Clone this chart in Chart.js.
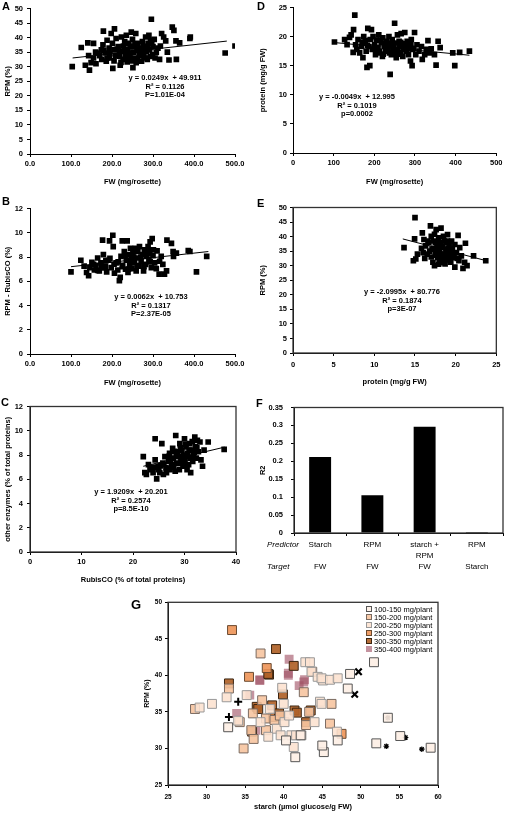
<!DOCTYPE html>
<html>
<head>
<meta charset="utf-8">
<script src="https://cdn.jsdelivr.net/npm/chart.js@4.4.1/dist/chart.umd.min.js"></script>
<style>
body { margin: 0; width: 505px; height: 814px; position: relative; background: #fff; overflow: hidden; font-family: "Liberation Sans", Arial, sans-serif; }
canvas { position: absolute; }
.tag { position: absolute; font-weight: bold; font-size: 11px; line-height: 11px; }
.eq { position: absolute; font-weight: bold; font-size: 7.5px; line-height: 8.5px; text-align: center; transform: translateX(-50%); white-space: nowrap; }
.row { position: absolute; font-style: italic; font-size: 8px; line-height: 10px; }
.leg { position: absolute; font-size: 7.5px; line-height: 8px; white-space: nowrap; }
.leg span { display: inline-block; width: 4px; height: 4px; margin-right: 2px; vertical-align: 0px; }
</style>
</head>
<body>
<canvas id="cA" width="247" height="192" style="left:0;top:0"></canvas>
<canvas id="cB" width="247" height="192" style="left:0;top:200px"></canvas>
<canvas id="cC" width="247" height="192" style="left:0;top:398px"></canvas>
<canvas id="cD" width="255" height="192" style="left:250px;top:0"></canvas>
<canvas id="cE" width="255" height="192" style="left:250px;top:200px"></canvas>
<canvas id="cF" width="255" height="190" style="left:250px;top:395px"></canvas>
<canvas id="cG" width="312" height="219" style="left:138px;top:595px"></canvas>
<div id="text"></div>
<script>
// panel A: FW (mg/rosette) vs RPM (%)
const panelA = [[103,30.0],[125,36.6],[135,30.5],[141,38.2],[143,33.8],[145,28.8],[149,31.4],[155,38.0],[161,31.0],[166,34.7],
  [170,33.8],[174,35.8],[178,37.5],[179,42.2],[184,34.7],[186,31.9],[188,39.1],[193,36.4],[194,33.0],[198,41.4],
  [201,38.0],[202,29.4],[205,35.8],[206,43.0],[209,33.8],[210,39.7],[215,36.9],[219,33.6],[220,30.5],[223,40.2],
  [225,35.3],[227,32.5],[228,37.1],[231,38.6],[233,34.1],[235,40.8],[237,31.6],[239,35.8],[241,38.0],[243,33.6],
  [245,34.7],[247,41.9],[250,39.4],[251,29.7],[253,36.9],[255,33.0],[258,41.4],[259,31.4],[261,35.6],[263,38.0],
  [266,34.1],[268,36.4],[272,31.9],[274,38.6],[276,34.7],[278,33.6],[280,36.9],[282,40.2],[284,35.3],[286,32.5],
  [288,38.0],[290,40.8],[292,35.8],[294,39.1],[296,46.3],[299,34.1],[300,36.9],[303,39.4],[305,33.0],[308,34.9],
  [312,36.4],[316,32.5],[318,37.1],[321,41.4],[326,40.2],[331,38.9],[335,35.0],[339,32.3],[347,43.6],[351,42.5],
  [356,38.9],[357,32.5],[365,38.2],[390,39.7],[391,40.2],[476,34.7],[500,37.1],
  [195,34.5],[205,32.0],[212,36.0],[218,35.0],[222,31.5],[230,36.0],[236,33.0],[244,37.0],[248,32.0],[252,35.0],
  [256,37.5],[262,32.5],[265,36.0],[270,34.0],[274,35.5],[277,37.0],[282,33.0],[287,36.5],[293,33.5],[297,38.0],
  [180,35.5],[188,33.0],[175,32.5],[160,35.0],[155,33.0]];
const trendA = [[104,33.0],[480,38.8]];

// panel B: FW vs RPM - RubisCO (%)
const panelB = [[100,6.77],[124,7.73],[132,7.25],[138,6.72],[143,6.45],[146,7.12],[151,7.57],[157,6.93],[161,7.31],[165,7.92],
  [169,6.85],[173,7.52],[177,9.39],[179,8.19],[184,7.25],[187,6.77],[192,7.73],[194,9.33],[198,7.12],[202,9.79],
  [203,8.85],[206,6.67],[210,7.52],[214,6.93],[218,6.05],[220,6.32],[222,8.05],[225,9.33],[226,7.31],[230,8.45],
  [233,6.99],[235,7.73],[237,9.33],[239,6.72],[241,8.19],[243,7.39],[245,8.72],[247,7.84],[249,7.04],[251,8.32],
  [255,7.52],[257,8.72],[259,6.85],[261,7.92],[263,8.45],[266,7.25],[267,8.85],[271,7.65],[274,8.19],[277,6.85],
  [279,8.59],[282,7.39],[284,8.05],[288,8.85],[290,7.79],[292,8.27],[293,9.25],[296,7.12],[298,9.52],[301,8.59],
  [304,7.52],[308,7.04],[315,6.59],[316,7.65],[320,8.05],[324,7.39],[328,6.59],[333,6.85],[334,9.39],[345,9.12],
  [349,8.45],[350,8.05],[357,8.32],[386,8.53],[390,8.45],[406,6.77],[431,8.05],
  [215,7.6],[225,7.2],[232,8.1],[240,7.0],[248,7.7],[253,8.0],[262,7.3],[270,8.0],[278,7.2],[285,8.3],
  [293,7.6],[205,7.4],[195,7.9],[185,7.7],[175,7.1],[165,6.9],[155,7.4],[290,8.6],[300,8.1],[310,8.5]];
const trendB = [[100,7.2],[435,8.45]];

// panel C: RubisCO (% of total proteins) vs other enzymes
const panelC = [[22.0,7.87],[22.3,6.54],[22.6,6.40],[23.3,6.80],[23.9,6.54],[24.3,9.34],[24.3,7.60],[24.6,6.03],[24.9,7.07],[25.2,6.54],
  [25.6,8.94],[25.8,7.33],[25.9,6.40],[26.2,7.87],[26.4,6.94],[26.5,6.54],[26.9,7.47],[27.1,8.14],[27.2,6.80],[27.5,7.20],
  [27.7,8.54],[27.8,7.74],[28.2,6.67],[28.3,9.61],[28.5,7.33],[28.6,8.27],[28.8,7.87],[29.0,6.80],[29.1,8.94],[29.3,7.47],
  [29.5,8.40],[29.7,7.07],[29.8,8.00],[30.0,9.34],[30.1,7.60],[30.3,8.67],[30.5,6.80],[30.6,8.14],[30.8,7.20],[31.0,8.94],
  [31.1,7.74],[31.2,6.54],[31.4,8.40],[31.6,7.47],[31.7,8.00],[32.0,9.47],[32.1,8.67],[32.3,7.74],[32.5,9.21],[32.7,8.27],
  [33.0,9.07],[33.2,7.60],[33.5,7.07],[33.8,8.40],[34.6,9.07],[37.7,8.47],
  [26.0,7.2],[26.8,6.9],[27.3,7.6],[27.9,7.0],[28.4,7.9],[28.9,7.3],[29.4,7.9],[29.9,7.2],[30.4,7.9],[30.9,8.4],
  [31.4,7.8],[31.9,8.2],[32.4,8.6],[27.0,7.9],[28.0,8.3],[29.2,8.6],[30.2,8.9],[31.5,9.1],[25.3,7.1],[24.0,7.0],
  [23.0,7.2],[25.0,6.8]];
const trendC = [[22.0,7.07],[37.8,8.65]];

// panel D: FW vs protein (mg/g FW)
const panelD = [[102,19.07],[127,19.47],[133,18.62],[139,19.86],[143,20.3],[148,17.3],[149,21.2],[152,23.7],[154,18.6],[157,17.8],
  [160,19.5],[164,17.2],[168,18.3],[172,16.4],[174,20.0],[176,18.9],[180,17.5],[182,14.7],[184,21.4],[187,18.3],
  [189,15.0],[190,19.5],[193,21.2],[195,17.8],[197,20.0],[201,18.6],[203,16.9],[205,19.4],[209,18.1],[211,20.3],
  [213,17.5],[217,18.9],[220,16.6],[221,19.8],[225,18.3],[228,17.5],[230,19.2],[234,17.8],[236,20.0],[238,18.6],
  [239,13.5],[242,16.9],[244,19.5],[246,18.1],[248,17.2],[250,22.3],[252,18.9],[254,16.4],[257,20.3],[258,17.8],
  [261,19.2],[262,18.3],[265,17.2],[266,20.5],[269,18.6],[270,16.6],[273,18.1],[275,20.7],[279,17.5],[281,19.2],
  [284,16.9],[287,18.3],[289,15.8],[291,19.5],[293,15.0],[295,17.8],[299,20.7],[302,16.9],[305,18.6],[310,17.5],
  [316,18.3],[318,16.1],[324,16.9],[328,17.8],[332,19.3],[336,17.2],[340,17.9],[348,16.9],[352,15.1],[357,19.2],
  [362,18.1],[393,17.2],[398,15.0],[410,17.3],[434,17.5],
  [200,18.0],[208,17.2],[215,19.4],[222,17.0],[226,18.8],[232,18.0],[237,17.2],[243,18.9],[248,18.5],[255,17.6],
  [260,17.0],[265,19.0],[272,17.8],[276,18.8],[283,17.9],[290,18.6],[297,18.0],[183,18.5],[178,19.3],[170,19.0]];
const trendD = [[98,19.0],[434,16.8]];

// panel E: protein (mg/g FW) vs RPM (%)
const panelE = [[13.65,36.2],[14.8,31.7],[14.95,39.2],[15.0,46.5],[15.1,32.3],[15.3,34.0],[15.9,41.3],[16.1,39.0],[16.3,36.8],[16.5,34.0],
  [16.7,37.9],[16.9,43.7],[17.0,40.1],[17.1,35.7],[17.2,31.2],[17.3,38.5],[17.4,30.0],[17.5,34.5],[17.6,42.4],[17.7,36.8],
  [17.8,32.8],[17.9,39.6],[18.0,35.1],[18.1,37.9],[18.2,42.9],[18.3,32.3],[18.4,36.2],[18.5,40.1],[18.6,34.0],[18.7,30.6],
  [18.8,37.9],[18.9,35.7],[19.0,40.7],[19.1,32.8],[19.2,37.3],[19.3,34.5],[19.4,31.2],[19.5,38.5],[19.6,35.7],[19.7,32.8],
  [19.9,37.3],[19.9,29.5],[20.1,34.5],[20.3,40.4],[20.4,31.7],[20.5,36.2],[20.7,33.4],[20.9,29.1],[21.1,31.2],[21.2,37.7],
  [21.4,30.0],[22.2,33.4],[23.7,31.7],
  [16.8,35.0],[17.0,33.0],[17.3,36.0],[17.5,38.0],[17.6,33.5],[17.8,35.5],[18.0,31.5],[18.1,34.0],[18.3,36.5],[18.5,33.0],
  [18.6,38.5],[18.8,34.5],[18.9,32.0],[19.1,36.0],[19.2,33.5],[19.4,35.0],[19.6,33.0],[17.4,40.8],[16.6,38.5],[16.2,32.5],
  [15.8,36.0],[16.0,34.5],[17.9,30.5],[18.4,31.0],[19.0,38.5],[19.8,34.0],[20.2,32.5]];
const trendE = [[13.5,39.2],[23.8,31.7]];

// panel F: R2 of predictor -> target
const fPredictor = ['Starch', 'RPM', 'starch +\nRPM', 'RPM'];
const fTarget = ['FW', 'FW', 'FW', 'Starch'];
const fR2 = [0.212, 0.105, 0.296, 0.003];

// panel G: starch vs RPM, grouped by plant FW
const gBands = ['100-150 mg/plant', '150-200 mg/plant', '200-250 mg/plant', '250-300 mg/plant', '300-350 mg/plant', '350-400 mg/plant'];
const g100 = [[52.0,30.7],[53.5,34.2],[55.1,31.7],[59.05,30.1],[48.6,40.2],[48.3,38.2],[51.7,41.8],[32.8,32.9],[41.5,28.8],[45.2,29.5],
  [45.0,30.4],[47.0,31.1],[42.2,31.8],[40.3,31.1]];
const g150 = [[28.5,35.4],[32.9,38.2],[34.3,33.6],[34.8,30.0],[35.8,32.5],[36.0,34.8],[36.1,31.3],[37.2,36.6],[37.7,34.1],[37.7,32.5],
  [38.8,33.9],[39.5,34.5],[42.6,37.7],[42.9,33.2],[43.3,35.0],[46.0,33.4],[46.2,36.1],[37.0,43.0],[43.7,40.5]];
const g200 = [[29.1,35.6],[30.7,36.1],[32.6,37.0],[35.2,37.3],[37.0,33.6],[38.0,31.6],[38.2,35.4],[39.1,32.7],[39.6,31.8],[39.8,38.3],
  [40.0,36.1],[40.1,33.6],[40.7,34.5],[41.0,31.8],[41.3,30.2],[41.6,31.8],[42.3,31.8],[43.6,40.5],[44.0,33.6],[44.4,39.8],
  [44.7,36.4],[45.1,39.3],[44.9,39.6],[46.0,39.4],[47.0,39.6],[42.8,41.8],[43.4,41.8],[46.9,32.3],[34.1,33.8],[44.9,36.1]];
const g250 = [[33.3,46.2],[37.8,41.0],[35.5,39.8],[47.5,32.0]];
const g300 = [[39.0,43.6],[41.3,41.3],[38.1,40.1],[32.9,38.9],[35.9,32.3],[36.5,35.7],[36.7,35.4],[38.0,40.2],[38.5,35.9],[38.6,34.3],
  [39.4,34.8],[39.9,37.4],[41.4,35.2],[41.7,34.9],[42.9,33.6],[43.5,35.2]];
const g350 = [[40.7,42.2],[36.9,39.4],[40.6,40.3],[42.7,39.4],[35.6,37.3],[36.4,32.5],[36.9,39.3],[40.6,40.0],[42.0,38.6],[42.6,39.1],[33.9,34.8]];
const gCrossX = [[49.7,40.5],[49.2,37.4]];
const gPlus = [[34.1,36.4],[32.9,34.3]];
const gStar = [[53.5,34.2],[53.3,30.3],[55.8,31.5],[57.9,29.9]];

const gFill = ['rgba(253,238,228,0.9)', 'rgba(246,196,160,0.9)', 'rgba(252,226,208,0.9)', 'rgba(238,150,90,0.92)', 'rgba(176,98,40,0.92)', 'rgba(160,80,100,0.62)'];
const gEdge = ['#555', '#7a6a60', '#999', '#6a4a30', '#3a2410', 'rgba(0,0,0,0)'];

const FONT = '"Liberation Sans", Arial, sans-serif';
const bold = (size) => ({family: FONT, size: size, weight: 'bold'});
const xy = (pts) => pts.map(([x, y]) => ({x, y}));

Chart.register({
    id: 'frame',
    defaults: {on: false, color: '#000', width: 1},
    afterDraw(chart, args, opts) {
        if (!opts.on) return;
        const {left, top, right, bottom} = chart.chartArea;
        const ctx = chart.ctx;
        ctx.save();
        ctx.strokeStyle = opts.color;
        ctx.lineWidth = opts.width;
        ctx.strokeRect(left, top, right - left, bottom - top);
        ctx.restore();
    }
});

function axis(o) {
    const ticks = {stepSize: o.step, color: '#000', font: bold(o.fs || 7.5), padding: o.tp, maxRotation: 0, minRotation: 0, autoSkip: false};
    if (o.fmt) ticks.callback = o.fmt;
    return {
        type: 'linear', min: o.min, max: o.max,
        ticks,
        grid: {drawOnChartArea: false, color: '#000', tickLength: 3},
        border: {color: '#000', width: 1},
        title: {display: true, text: o.title, color: '#000', font: bold(o.fs2 || 7.5), padding: o.pad},
        afterFit: s => { if (s.isHorizontal()) s.height = o.size; else s.width = o.size; }
    };
}

function scatterPanel(id, pts, trend, xo, yo, pad, frame) {
    new Chart(document.getElementById(id), {
        type: 'scatter',
        data: {
            datasets: [
                {data: xy(pts), pointStyle: 'rect', pointRadius: 4, backgroundColor: '#000', borderColor: '#000', borderWidth: 0},
                {type: 'line', data: xy(trend), borderColor: '#000', borderWidth: 1, pointRadius: 0, fill: false}
            ]
        },
        options: {
            responsive: false, animation: false, devicePixelRatio: 1,
            layout: {padding: pad},
            plugins: {legend: {display: false}, tooltip: {enabled: false}, frame: {on: frame, color: '#333', width: 1.3}},
            scales: {x: axis(xo), y: axis(yo)}
        }
    });
}

const fw1 = v => v.toFixed(1);

scatterPanel('cA', panelA, trendA,
    {min: 0, max: 500, step: 100, fmt: fw1, tp: 2.5, size: 38, title: 'FW (mg/rosette)', pad: {top: 0, bottom: 6}},
    {min: 0, max: 50, step: 5, tp: 4, size: 30, title: 'RPM (%)', pad: {top: 3.5, bottom: 0}},
    {top: 4, right: 12, left: 0, bottom: 0}, false);

scatterPanel('cB', panelB, trendB,
    {min: 0, max: 500, step: 100, fmt: fw1, tp: 2.5, size: 38, title: 'FW (mg/rosette)', pad: {top: 0, bottom: 5}},
    {min: 0, max: 12, step: 2, tp: 4, size: 30, title: 'RPM - RubisCO (%)', pad: {top: 3.5, bottom: 0}},
    {top: 4, right: 12, left: 0, bottom: 0}, false);

scatterPanel('cC', panelC, trendC,
    {min: 0, max: 40, step: 10, tp: 2.5, size: 38, title: 'RubisCO (% of total proteins)', pad: {top: 0, bottom: 6}},
    {min: 0, max: 12, step: 2, tp: 4, size: 30, title: 'other enzymes (% of total proteins)', pad: {top: 3.5, bottom: 0}},
    {top: 4, right: 11, left: 0, bottom: 0}, true);

scatterPanel('cD', panelD, trendD,
    {min: 0, max: 500, step: 100, tp: 2.5, size: 39, title: 'FW (mg/rosette)', pad: {top: 0, bottom: 6}},
    {min: 0, max: 25, step: 5, tp: 3, size: 43, title: 'protein (mg/g FW)', pad: {top: 8.5, bottom: 0}},
    {top: 4, right: 8, left: 0, bottom: 0}, false);

scatterPanel('cE', panelE, trendE,
    {min: 0, max: 25, step: 5, tp: 4.5, size: 39, title: 'protein (mg/g FW)', pad: {top: 0, bottom: 5.5}},
    {min: 0, max: 50, step: 5, tp: 3, size: 43, title: 'RPM (%)', pad: {top: 8.5, bottom: 0}},
    {top: 4, right: 7, left: 0, bottom: 0}, true);

// panel F bar chart, predictor / target rows as multi-line tick labels
const fLabels = fPredictor.map((p, i) => {
    const lines = p.split('\n');
    while (lines.length < 2) lines.push('');
    return [...lines, fTarget[i]];
});

new Chart(document.getElementById('cF'), {
    type: 'bar',
    data: {
        labels: fLabels,
        datasets: [{data: fR2, backgroundColor: '#000', barPercentage: 0.42, categoryPercentage: 1}]
    },
    options: {
        responsive: false, animation: false, devicePixelRatio: 1,
        layout: {padding: {top: 8, right: 2, left: 0, bottom: 0}},
        plugins: {legend: {display: false}, tooltip: {enabled: false}, frame: {on: true, color: '#333', width: 1.3}},
        scales: {
            x: {
                ticks: {color: '#000', font: {family: FONT, size: 8, lineHeight: '11px'}, padding: 3.5, maxRotation: 0, autoSkip: false},
                grid: {offset: true, drawOnChartArea: false, color: '#000', tickLength: 3},
                border: {color: '#000'},
                afterFit: s => { s.height = 52; }
            },
            y: axis({min: 0, max: 0.35, step: 0.05, fmt: v => String(+v.toFixed(2)), tp: 8, size: 44, title: 'R2', pad: {top: 8.5, bottom: 0}})
        }
    }
});

// panel G
const gSets = [g100, g200, g150, g250, g300, g350];
const gIdx = [0, 2, 1, 3, 4, 5];
const gDatasets = gSets.map((pts, k) => ({
    data: xy(pts), pointStyle: 'rect', pointRadius: 6.3,
    backgroundColor: gFill[gIdx[k]], borderColor: gEdge[gIdx[k]], borderWidth: 1
}));
gDatasets.push({data: xy(gCrossX), pointStyle: 'crossRot', pointRadius: 4.5, borderColor: '#000', borderWidth: 2.2});
gDatasets.push({data: xy(gPlus), pointStyle: 'cross', pointRadius: 4, borderColor: '#000', borderWidth: 2});
gDatasets.push({data: xy(gStar), pointStyle: 'star', pointRadius: 2.8, borderColor: '#000', borderWidth: 1.2});

new Chart(document.getElementById('cG'), {
    type: 'scatter',
    data: {datasets: gDatasets},
    options: {
        responsive: false, animation: false, devicePixelRatio: 1,
        layout: {padding: {top: 7, right: 12, left: 0, bottom: 0}},
        plugins: {legend: {display: false}, tooltip: {enabled: false}, frame: {on: true, color: '#333', width: 1.3}},
        scales: {
            x: axis({min: 25, max: 60, step: 5, fs: 6.5, tp: 5, size: 29, title: 'starch (\u00b5mol glucose/g FW)', fs2: 7.5, pad: {top: 0, bottom: 2.5}}),
            y: axis({min: 25, max: 50, step: 5, fs: 6.5, tp: 3, size: 30, title: 'RPM (%)', fs2: 7, pad: {top: 4.5, bottom: 0}})
        }
    }
});

// overlay text: panel tags, regression notes, F row names, G legend
const text = document.getElementById('text');
function put(cls, html, left, top, extra) {
    const d = document.createElement('div');
    d.className = cls;
    d.innerHTML = html;
    d.style.left = left + 'px';
    d.style.top = top + 'px';
    if (extra) Object.assign(d.style, extra);
    text.appendChild(d);
}
put('tag', 'A', 2, 1);
put('tag', 'B', 2, 196);
put('tag', 'C', 1, 397);
put('tag', 'D', 257, 1);
put('tag', 'E', 257, 198);
put('tag', 'F', 256, 398);
put('tag', 'G', 131, 598, {fontSize: '13px', lineHeight: '13px'});

put('eq', 'y = 0.0249x &nbsp;+ 49.911<br>R\u00b2 = 0.1126<br>P=1.01E-04', 165, 74);
put('eq', 'y = 0.0062x &nbsp;+ 10.753<br>R\u00b2 = 0.1317<br>P=2.37E-05', 151, 293);
put('eq', 'y = 1.9209x &nbsp;+ 20.201<br>R\u00b2 = 0.2574<br>p=8.5E-10', 131, 488);
put('eq', 'y = -0.0049x &nbsp;+ 12.995<br>R\u00b2 = 0.1019<br>p=0.0002', 357, 93);
put('eq', 'y = -2.0995x &nbsp;+ 80.776<br>R\u00b2 = 0.1874<br>p=3E-07', 402, 288);

put('row', 'Predictor', 267, 540);
put('row', 'Target', 267, 562);

gBands.forEach((b, i) => {
    put('leg', `<span style="background:${gFill[i]};border:1px solid ${gEdge[i]}"></span>${b}`, 366, 606 + i * 8);
});
</script>
</body>
</html>
